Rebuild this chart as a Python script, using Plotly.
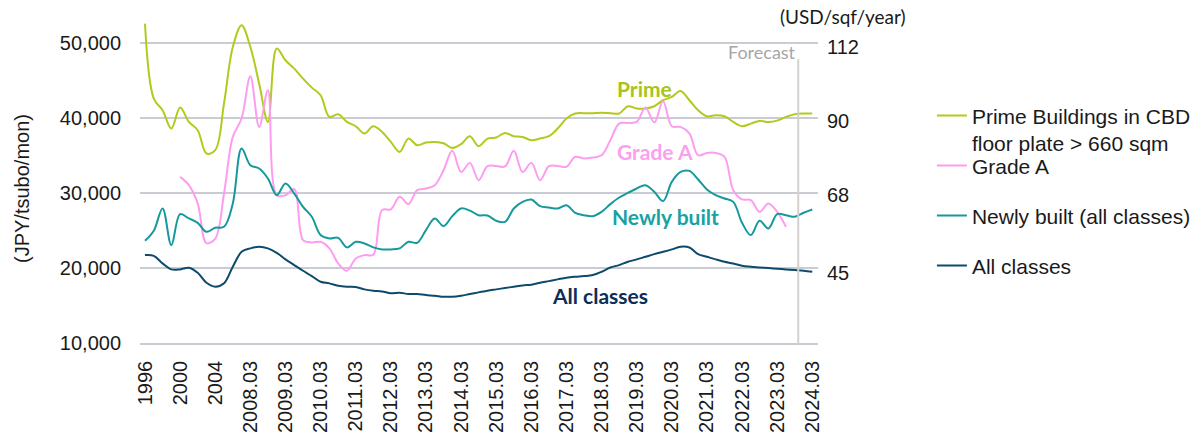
import plotly.graph_objects as go

# ---------------- data ----------------
CATEGORIES = [
    "1996", "1997", "1998", "1999", "2000", "2001", "2002", "2003", "2004", "2005", "2006", "2007",
    "2008.03", "2008.06", "2008.09", "2008.12", "2009.03", "2009.06", "2009.09", "2009.12",
    "2010.03", "2010.06", "2010.09", "2010.12", "2011.03", "2011.06", "2011.09", "2011.12",
    "2012.03", "2012.06", "2012.09", "2012.12", "2013.03", "2013.06", "2013.09", "2013.12",
    "2014.03", "2014.06", "2014.09", "2014.12", "2015.03", "2015.06", "2015.09", "2015.12",
    "2016.03", "2016.06", "2016.09", "2016.12", "2017.03", "2017.06", "2017.09", "2017.12",
    "2018.03", "2018.06", "2018.09", "2018.12", "2019.03", "2019.06", "2019.09", "2019.12",
    "2020.03", "2020.06", "2020.09", "2020.12", "2021.03", "2021.06", "2021.09", "2021.12",
    "2022.03", "2022.06", "2022.09", "2022.12", "2023.03", "2023.06", "2023.09", "2023.12",
    "2024.03",
]

TICK_LABELS = ["1996", "2000", "2004", "2008.03", "2009.03", "2010.03", "2011.03", "2012.03",
               "2013.03", "2014.03", "2015.03", "2016.03", "2017.03", "2018.03", "2019.03",
               "2020.03", "2021.03", "2022.03", "2023.03", "2024.03"]

PRIME = [52520, 42545, 41000, 38550, 41350, 39430, 38330, 35230, 35670, 41900,
         49400, 52300, 49400, 44540, 39430, 49200, 47640, 46530, 45200, 44000,
         42980, 40100, 40460, 39430, 38860, 37900, 38860, 38100, 36770, 35440,
         37210, 36330, 36680, 36770, 36600, 35970, 36470, 37530, 36200, 37220,
         37350, 37970, 37530, 37440, 37000, 37220, 37530, 38550, 39890, 40550,
         40600, 40600, 40650, 40600, 40550, 41520, 41210, 41210, 41520, 42320,
         42760, 43560, 42320, 41000, 40190, 40320, 40190, 39430, 38860, 39210,
         39570, 39430, 39610, 40100, 40460, 40550, 40550]

GRADE_A = [None, None, None, None, 32120, 31010, 28580, 23300, 23900, 29900,
           37440, 39890, 45510, 38770, 43650, 29680, 29680, 30480, 23700, 23390,
           23470, 22600, 20600, 19620, 21260, 21700, 21750, 27690, 27800, 29460,
           28490, 30350, 30570, 31010, 33010, 35580, 32780, 33980, 31680, 33540,
           33580, 33500, 35580, 32780, 33980, 31680, 33540, 33580, 33460, 34790,
           34570, 34700, 35000, 37000, 39210, 39300, 39430, 41350, 39350, 42190,
           38860, 38770, 37900, 35000, 35300, 35300, 34790, 30350, 29110, 29030,
           27460, 28580, 27460, 25470, None, None, None]

NEWLY_BUILT = [23610, 24940, 27910, 23030, 27160, 26580, 26000, 24810, 25340, 25470,
               28580, 35890, 33670, 33230, 31900, 29680, 31240, 29900, 28130, 26800,
               24370, 23920, 24000, 22730, 23470, 23250, 22730, 22460, 22460, 22600,
               23470, 23340, 25030, 26580, 25560, 26890, 27910, 27620, 27020, 26980,
               26270, 26130, 27910, 28790, 29100, 28220, 28040, 27910, 28350, 27340,
               27020, 26890, 27460, 28490, 29370, 29990, 30570, 31010, 30130, 28890,
               31450, 32780, 32910, 31770, 30440, 29680, 29240, 28790, 26000, 24370,
               26270, 25250, 27160, 27020, 26800, 27340, 27780]

ALL_CLASSES = [21700, 21610, 20600, 19800, 19800, 20020, 19350, 18020, 17490, 17940,
               20150, 22140, 22600, 22810, 22600, 22010, 21130, 20370, 19620, 18910,
               18150, 17940, 17620, 17490, 17450, 17140, 16960, 16870, 16610, 16700,
               16520, 16520, 16380, 16300, 16160, 16160, 16300, 16520, 16740, 16960,
               17140, 17320, 17490, 17670, 17760, 18020, 18240, 18470, 18690, 18820,
               18910, 19050, 19490, 20060, 20370, 20810, 21130, 21480, 21830, 22140,
               22460, 22810, 22720, 21830, 21480, 21130, 20810, 20590, 20280, 20150,
               20060, 19970, 19880, 19800, 19710, 19620, 19490]

LEFT_TICKS = [10000, 20000, 30000, 40000, 50000]
RIGHT_TICKS = [45, 68, 90, 112]
FORECAST_POS = 74.4  # category position of the forecast divider

# ---------------- style ----------------
C_PRIME = "#b3c91c"
C_GRADEA = "#fd9cf0"
C_NEW = "#16999d"
C_ALL = "#0d4a6c"
GRID = "#c9cdd3"
FONT = "Liberation Sans, Arial, sans-serif"
LABEL_FONT = "Lato, Calibri, sans-serif"

PL, PT, PW, PH = 140, 5, 678, 338  # plot area in pixels


def py(px):
    return 1 - (px - PT) / PH


fig = go.Figure()

series = [
    ("Prime Buildings in CBD<br>floor plate > 660 sqm", PRIME, C_PRIME, "legend", 117),
    ("Grade A", GRADE_A, C_GRADEA, "legend2", 167),
    ("Newly built (all classes)", NEWLY_BUILT, C_NEW, "legend3", 217),
    ("All classes", ALL_CLASSES, C_ALL, "legend4", 267),
]
legend_layout = {}
for name, vals, col, leg, ypix in series:
    fig.add_trace(go.Scatter(
        x=CATEGORIES, y=vals, name=name, mode="lines",
        line=dict(color=col, width=2, shape="spline", smoothing=1.0),
        legend=leg, connectgaps=False,
    ))
    legend_layout[leg] = dict(
        x=1.168, xanchor="left", y=py(ypix - 21.7), yanchor="top",
        font=dict(family=FONT, size=21, color="#1a1a1a"),
        valign="top", bgcolor="rgba(0,0,0,0)",
    )

# invisible trace to carry the secondary (USD) axis
fig.add_trace(go.Scatter(x=[CATEGORIES[0]], y=[None], yaxis="y2", showlegend=False,
                         mode="lines", hoverinfo="skip"))

fig.update_layout(
    width=1195, height=436,
    margin=dict(l=PL, r=1195 - PL - PW, t=PT, b=436 - PT - PH, autoexpand=False),
    paper_bgcolor="white", plot_bgcolor="white",
    font=dict(family=FONT, size=20, color="#1a1a1a"),
    showlegend=True,
    xaxis=dict(
        type="category", categoryorder="array", categoryarray=CATEGORIES,
        range=[-0.57, 76.65],
        tickmode="array", tickvals=TICK_LABELS, ticktext=TICK_LABELS,
        tickangle=-90, tickfont=dict(size=20, color="#1a1a1a"),
        showgrid=False, showline=True, linecolor=GRID, linewidth=1.5,
        ticks="", ticklabelstandoff=8, zeroline=False, automargin=False,
    ),
    yaxis=dict(
        range=[10000, 55000], tickvals=LEFT_TICKS, tickformat=",d",
        showgrid=True, gridcolor=GRID, gridwidth=1.5, zeroline=False,
        tickfont=dict(size=20, color="#1a1a1a"), ticks="", ticklabelstandoff=18,
        automargin=False,
    ),
    yaxis2=dict(
        overlaying="y", side="right", range=[24.25, 124.5], tickvals=RIGHT_TICKS,
        showgrid=False, zeroline=False, showline=False,
        tickfont=dict(size=20, color="#1a1a1a"), ticks="", ticklabelstandoff=8,
        automargin=False,
    ),
    **legend_layout,
)

# forecast divider
fig.add_shape(type="line", xref="x", yref="y", x0=FORECAST_POS, x1=FORECAST_POS,
              y0=10000, y1=47770, line=dict(color="#d5d0cc", width=2))

annots = [
    dict(text="Forecast", x=FORECAST_POS, xref="x", y=52, xanchor="right",
         font=dict(family=LABEL_FONT, size=18, color="#a6a6a6")),
    dict(text="(USD/sqf/year)", x=843, y=17, font=dict(family=LABEL_FONT, size=19, color="#1a1a1a")),
    dict(text="(JPY/tsubo/mon)", x=22, y=188, textangle=-90, font=dict(family=FONT, size=20, color="#1a1a1a")),
    dict(text="<b>Prime</b>", x=644, y=88, font=dict(family=LABEL_FONT, size=21, color="#a9c417")),
    dict(text="<b>Grade A</b>", x=655, y=151, font=dict(family=LABEL_FONT, size=21, color="#fb9ff0")),
    dict(text="<b>Newly built</b>", x=665, y=216, font=dict(family=LABEL_FONT, size=21, color="#17a2a3")),
    dict(text="<b>All classes</b>", x=600, y=295, font=dict(family=LABEL_FONT, size=21, color="#0e2d55")),
]
for a in annots:
    a = dict(a)
    if a.get("xref") != "x":
        a["xref"] = "paper"
        a["x"] = (a["x"] - PL) / PW
    a["yref"] = "paper"
    a["y"] = py(a["y"])
    a.setdefault("xanchor", "center")
    a["yanchor"] = "middle"
    a["showarrow"] = False
    fig.add_annotation(**a)

fig.write_html(
    "out.html",
    config={"displayModeBar": False},
    post_script="document.body.style.margin='0';document.body.style.padding='0';",
)
